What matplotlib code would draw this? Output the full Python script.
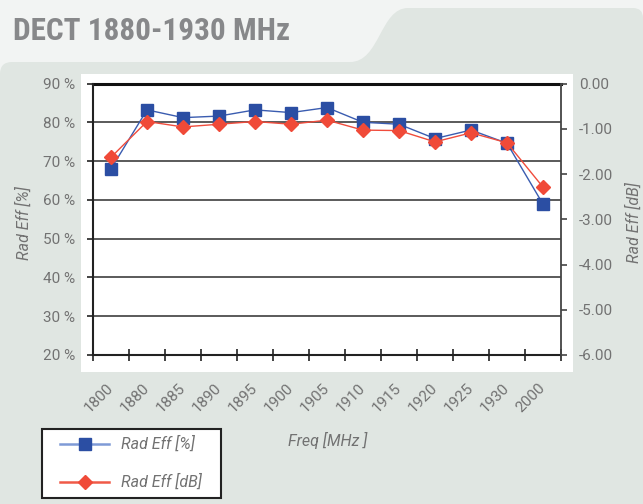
import matplotlib
matplotlib.use("Agg")
import matplotlib.pyplot as plt
from matplotlib.path import Path
from matplotlib.patches import PathPatch, Rectangle
from matplotlib.lines import Line2D
from matplotlib import font_manager as fm

# ---- data ----
freq_labels = ["1800", "1880", "1885", "1890", "1895", "1900", "1905",
               "1910", "1915", "1920", "1925", "1930", "2000"]
rad_eff_pct = [68.0, 83.2, 81.2, 81.6, 83.2, 82.5, 83.8,
               80.0, 79.5, 75.8, 78.0, 74.6, 58.9]
rad_eff_db = [-1.63, -0.84, -0.96, -0.90, -0.84, -0.90, -0.81,
              -1.03, -1.04, -1.29, -1.09, -1.31, -2.29]
pct_ticks = [20, 30, 40, 50, 60, 70, 80, 90]
db_ticks = [0, -1, -2, -3, -4, -5, -6]

available = {f.name for f in fm.fontManager.ttflist}

def pick(cands):
    out = [c for c in cands if c in available]
    return out + ["DejaVu Sans"]

TITLE_FONT = pick(["Roboto Condensed", "Archivo Narrow", "PT Sans Narrow",
                   "Fira Sans Condensed", "Barlow Condensed", "IBM Plex Sans Condensed",
                   "Liberation Sans Narrow", "Open Sans Condensed"])
FONT = pick(["Roboto", "Liberation Sans"])

W, H = 643, 504
DPI = 100
fig = plt.figure(figsize=(W / DPI, H / DPI), dpi=DPI)
LIGHT = "#f2f4f3"
DARK = "#e0e6e2"
fig.patch.set_facecolor(LIGHT)

def P(x, y):
    return (x / W, 1 - y / H)

# dark background shape with tab
verts = [P(0, 504), P(643, 504), P(643, 18), P(643, 8), P(633, 8),
         P(408, 8), P(380, 8), P(380, 62), P(350, 62),
         P(12, 62), P(0, 62), P(0, 74), P(0, 504)]
codes = [Path.MOVETO, Path.LINETO, Path.LINETO, Path.CURVE3, Path.CURVE3,
         Path.LINETO, Path.CURVE4, Path.CURVE4, Path.CURVE4,
         Path.LINETO, Path.CURVE3, Path.CURVE3, Path.CLOSEPOLY]
fig.add_artist(PathPatch(Path(verts, codes), transform=fig.transFigure,
                         facecolor=DARK, edgecolor="none", zorder=0))
# white plot panel
x0, y0 = P(81, 372)
x1, y1 = P(573, 74)
fig.add_artist(Rectangle((x0, y0), x1 - x0, y1 - y0, transform=fig.transFigure,
                         facecolor="white", edgecolor="none", zorder=0.5))

# title
fig.text(13 / W, 1 - 40.5 / H, "DECT 1880-1930 MHz", fontsize=22.5, fontweight="bold",
         family=TITLE_FONT, color="#87888a", ha="left", va="baseline")

TXT = "#727272"

ax = fig.add_axes([93 / W, 1 - 355 / H, (561 - 93) / W, (355 - 83.5) / H])
ax.set_facecolor("none")
ax.set_zorder(2)
n = len(freq_labels)
xs = list(range(n))
ax.set_xlim(-0.5, n - 0.5)
ax.set_ylim(20, 90)

for v in pct_ticks[1:-1]:
    ax.axhline(v, color="#4d4d4d", lw=1.3, zorder=1)
ax.axhline(90, color="#111111", lw=2.2, zorder=1, clip_on=False)

ax.plot(xs, rad_eff_pct, color="#3a5cb0", lw=1.0, marker="s", ms=8,
        markerfacecolor="#2b4ea3", markeredgecolor="#2b4ea3", zorder=3, clip_on=False)

ax2 = ax.twinx()
ax2.set_ylim(-6, 0)
ax2.plot(xs, rad_eff_db, color="#f04c3c", lw=1.0, marker="D", ms=7.5,
         markerfacecolor="#f04a38", markeredgecolor="#f04a38", zorder=4, clip_on=False)

for a in (ax, ax2):
    for s in a.spines.values():
        s.set_visible(False)
ax.spines["left"].set_visible(True)
ax.spines["left"].set_color("#222222")
ax.spines["left"].set_linewidth(1.5)
ax.spines["bottom"].set_visible(True)
ax.spines["bottom"].set_color("#222222")
ax.spines["bottom"].set_linewidth(1.5)
ax2.spines["right"].set_visible(True)
ax2.spines["right"].set_color("#444444")
ax2.spines["right"].set_linewidth(1.3)

ax.set_yticks(pct_ticks)
ax.set_yticklabels([f"{v} %" for v in pct_ticks])
ax.tick_params(axis="y", direction="out", length=4, width=1.2, color="#222222",
               pad=9, labelsize=11, labelcolor=TXT)
ax2.set_yticks(db_ticks)
ax2.set_yticklabels([f"{v:.2f}" if v != 0 else "0.00" for v in db_ticks])
ax2.tick_params(axis="y", direction="out", length=4, width=1.2, color="#444444",
                pad=9, labelsize=11, labelcolor=TXT)

ax.set_xticks(xs)
ax.set_xticklabels(freq_labels, rotation=45, ha="right", va="center",
                   rotation_mode="anchor")
ax.set_xticks([i - 0.5 for i in range(n + 1)], minor=True)
ax.tick_params(axis="x", which="major", length=0, pad=22, labelsize=11,
               labelcolor=TXT)
ax.tick_params(axis="x", which="minor", direction="inout", length=8, width=1.2,
               color="#222222")

for lab in ax.get_xticklabels() + ax.get_yticklabels() + ax2.get_yticklabels():
    lab.set_family(FONT)

# axis titles
fig.text(24 / W, 1 - 223 / H, "Rad Eff [%]", rotation=90, ha="center", va="center",
         fontsize=11.5, style="italic", color=TXT, family=FONT)
fig.text(634 / W, 1 - 223 / H, "Rad Eff [dB]", rotation=90, ha="center", va="center",
         fontsize=11.5, style="italic", color=TXT, family=FONT)
fig.text(328 / W, 1 - 440 / H, "Freq [MHz ]", ha="center", va="center",
         fontsize=11.5, style="italic", color=TXT, family=FONT)

# legend box
lx0, ly0 = P(42, 498)
lx1, ly1 = P(221, 429)
fig.add_artist(Rectangle((lx0, ly0), lx1 - lx0, ly1 - ly0, transform=fig.transFigure,
                         facecolor="white", edgecolor="#222222", lw=1.5, zorder=5))
for yy, col, lcol, mk, ms, lab in [(444, "#2b4ea3", "#7f9ad6", "s", 8, "Rad Eff [%]"),
                                   (482, "#f04a38", "#f05a48", "D", 7.5, "Rad Eff [dB]")]:
    a, b = P(60, yy)
    c, _ = P(109, yy)
    fig.add_artist(Line2D([a, c], [b, b], transform=fig.transFigure, color=lcol,
                          lw=1.8, zorder=6))
    m, _ = P(84.5, yy)
    fig.add_artist(Line2D([m], [b], transform=fig.transFigure, marker=mk, ms=ms,
                          color=col, lw=0, zorder=7))
    t, _ = P(121, yy)
    fig.text(t, b, lab, ha="left", va="center", fontsize=11.5, style="italic",
             color=TXT, family=FONT, zorder=7)

fig.savefig("out.png", dpi=DPI, facecolor=fig.get_facecolor())
